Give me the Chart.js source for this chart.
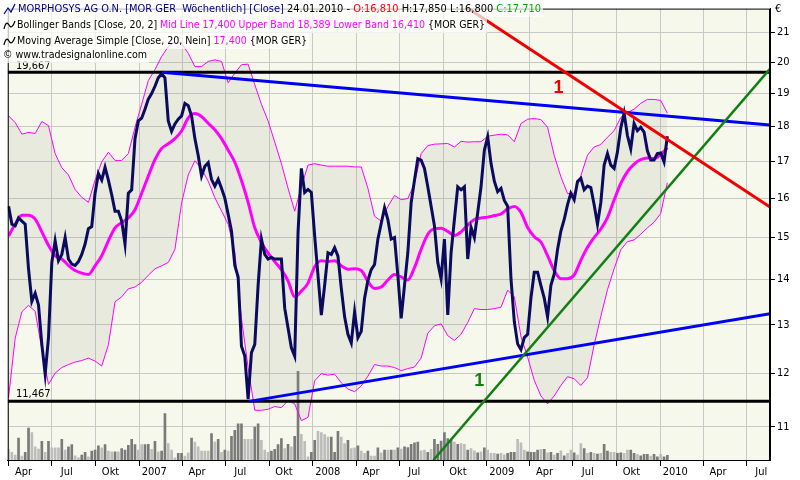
<!DOCTYPE html>
<html><head><meta charset="utf-8">
<script src="https://cdn.jsdelivr.net/npm/chart.js@4"></script>
<style>html,body{margin:0;padding:0;background:#fff}canvas{display:block}</style>
</head><body>
<canvas id="c" width="800" height="480"></canvas>
<script>
// ---- DATA (week index 0 = start of April 2006) ----
const closeWeekly = [
15.79,15.33,15.29,15.49,15.41,15.33,14.25,13.51,13.69,13.43,
12.59,11.99,12.73,14.40,14.92,14.44,14.59,15.00,14.48,14.36,
14.33,14.42,14.59,14.84,15.22,15.27,16.13,16.66,16.48,16.83,
16.48,16.09,15.66,15.66,15.41,14.84,16.13,16.22,17.64,18.16,
18.24,18.51,18.82,18.99,19.22,19.49,19.62,19.49,18.16,17.85,
18.07,18.21,18.31,18.69,18.62,18.31,17.64,17.16,16.59,16.86,
16.96,16.50,16.32,16.50,16.26,16.00,15.58,15.16,14.33,14.06,
12.55,12.35,11.51,12.42,12.59,13.87,14.96,14.59,14.48,14.52,
14.48,14.48,14.48,13.36,12.93,12.52,12.35,15.12,16.80,16.15,
16.23,16.15,15.04,14.10,13.21,13.87,14.63,14.59,14.75,14.55,
13.80,13.17,12.80,12.62,13.28,12.73,12.86,13.58,13.98,14.23,
14.35,14.96,15.35,15.75,15.45,14.96,15.00,14.10,13.14,13.87,
14.63,15.88,16.48,17.07,17.03,16.80,16.30,15.79,15.29,14.40,
14.02,14.96,13.21,14.63,15.45,16.30,16.22,16.30,14.48,15.25,
15.00,15.62,16.30,17.31,17.69,16.94,16.45,16.17,16.26,15.94,
15.79,14.02,13.07,12.60,12.48,12.73,12.80,13.58,14.17,14.17,
13.86,13.58,13.17,13.87,14.13,14.71,15.16,15.45,15.83,16.13,
15.96,16.44,16.53,16.22,16.32,16.28,15.83,15.33,15.88,16.89,
17.21,16.89,16.80,17.26,17.95,18.39,17.73,17.35,18.08,17.87,
17.97,17.83,17.29,17.03,17.03,17.21,17.23,16.98,17.71];

// indicator values read every second week
const indicatorStep = 2;
const maLine = [
15.04,15.33,15.56,15.56,15.46,15.14,14.81,14.56,14.48,14.33,
14.21,14.15,14.12,14.32,14.56,14.92,15.24,15.37,15.49,15.70,
16.13,16.59,17.04,17.36,17.49,17.64,17.86,18.25,18.38,18.29,
18.09,17.90,17.64,17.31,16.97,16.47,15.89,15.24,14.88,14.62,
14.42,14.23,13.97,13.61,13.74,13.92,14.30,14.44,14.42,14.44,
14.32,14.24,14.25,14.21,13.96,13.80,13.83,13.99,14.12,14.06,
13.99,14.28,14.71,15.08,15.22,15.23,15.15,15.05,15.14,15.31,
15.45,15.49,15.51,15.55,15.59,15.72,15.78,15.63,15.25,15.02,
14.89,14.56,14.21,14.02,14.02,14.11,14.45,14.76,15.00,15.21,
15.50,15.95,16.39,16.71,16.92,17.04,17.09,17.07,17.19,17.38];
const upperBand = [
18.31,18.11,17.77,17.82,17.79,18.14,18.02,17.21,16.82,16.62,
16.23,16.02,15.89,16.48,16.98,17.25,17.02,17.02,17.21,17.97,
18.66,19.40,19.75,20.18,20.51,20.67,20.61,20.29,19.85,19.85,
20.02,20.07,20.02,19.33,19.64,19.91,19.93,19.27,18.66,18.16,
17.54,16.93,16.26,15.66,16.30,16.89,16.93,16.89,16.86,16.86,
16.86,16.86,16.84,16.84,16.26,15.53,15.41,15.78,16.07,15.96,
15.99,16.39,17.21,17.44,17.48,17.49,17.50,17.40,17.56,17.54,
17.55,17.55,17.71,17.74,17.77,17.75,17.55,18.08,18.21,18.23,
18.20,17.97,17.16,16.57,16.12,16.13,16.60,17.17,17.40,17.47,
17.68,17.87,18.26,18.41,18.51,18.69,18.81,18.81,18.78,18.39];
const lowerBand = [
11.54,12.72,13.28,13.42,13.29,12.49,11.79,12.01,12.12,12.18,
12.23,12.26,12.31,12.25,12.15,12.58,13.50,13.61,13.79,13.83,
13.94,14.10,14.25,14.32,14.40,14.71,15.87,16.62,17.01,16.79,
16.45,16.01,15.67,15.33,14.64,13.14,12.12,11.30,11.30,11.32,
11.37,11.35,11.48,11.42,11.11,11.17,11.86,12.00,11.97,11.99,
11.82,11.70,11.65,11.76,11.95,12.18,12.15,12.15,12.12,12.06,
12.10,12.13,12.31,12.82,12.98,13.02,12.77,12.67,12.80,13.05,
13.35,13.33,13.33,13.35,13.38,13.76,13.61,12.75,12.33,11.87,
11.57,11.42,11.57,11.77,11.94,11.90,11.77,11.92,12.58,13.18,
13.77,14.25,14.70,14.90,14.94,15.08,15.24,15.38,15.60,16.41];

// weekly volume (thousand shares) and bar shade (1 = dark, 0 = light)
const volumeWeekly = [
107,77,50,223,40,77,323,277,133,110,190,77,190,123,123,123,210,100,133,157,
43,23,50,77,33,90,100,143,123,157,90,83,83,83,117,100,150,210,157,100,
157,157,160,107,190,83,90,470,167,100,23,67,67,40,73,223,183,133,90,90,
90,267,183,210,77,100,90,240,300,367,367,210,210,210,333,367,200,100,77,90,
107,157,217,117,160,133,240,900,260,190,33,77,200,290,277,257,233,233,77,290,
233,167,200,117,123,143,90,67,90,40,40,123,73,100,100,100,100,123,110,
133,127,160,173,183,93,100,77,107,210,160,193,277,217,200,183,160,167,160,100,
117,93,73,83,123,100,67,67,60,67,53,67,77,77,210,173,100,83,77,77,
100,107,107,73,77,50,67,93,43,67,100,73,50,167,117,67,77,67,60,67,
160,90,77,77,67,73,67,100,100,67,57,43,57,57,40,57,33,57,33,47];
const volumeDark = [
0,0,0,1,0,1,1,0,0,0,1,0,1,0,0,0,1,0,1,1,
0,0,1,1,0,1,1,1,0,1,0,0,1,0,1,1,1,1,1,0,
0,1,1,0,1,0,1,1,0,0,0,1,1,0,0,1,0,0,0,0,
0,1,0,1,0,1,0,1,1,1,1,0,0,0,1,1,0,0,0,1,
1,1,1,0,1,0,1,1,0,0,0,1,1,0,0,0,0,1,1,1,
0,0,1,0,0,1,0,0,1,0,0,1,0,1,0,1,0,1,0,
1,1,1,1,1,0,0,1,0,1,1,1,1,1,1,0,1,0,0,1,
0,0,1,0,1,0,0,0,1,0,0,1,1,1,0,0,0,1,1,1,
1,0,1,0,1,0,1,0,1,0,0,1,0,0,1,0,1,0,1,0,
1,1,0,0,1,1,0,0,1,1,0,1,1,1,0,1,1,0,1,1];

// horizontal levels and trend lines (week, price)
const levelHigh = 19.667, levelLow = 11.467;
const trendUpperBlue = [[46.0, 19.667], [228.85, 18.04]];
const trendLowerBlue = [[72.3, 11.467], [228.85, 13.24]];
const trendRed = [[137.7, 21.87], [228.85, 15.77]];
const trendGreen = [[127.7, 10.416], [228.85, 19.78]];
const trendMarks = [{text: '1', w: 165.3, p: 19.18, color: '#F00000'}, {text: '1', w: 141.5, p: 11.86, color: '#128012'}];

// axes
const priceTicks = [11,12,13,14,15,16,17,18,19,20,21];
const quarterStarts = [[2006,3],[2006,6],[2006,9],[2007,0],[2007,3],[2007,6],[2007,9],[2008,0],[2008,3],[2008,6],[2008,9],[2009,0],[2009,3],[2009,6],[2009,9],[2010,0],[2010,3],[2010,6]];
const quarterLabels = ['Apr','Jul','Okt','2007','Apr','Jul','Okt','2008','Apr','Jul','Okt','2009','Apr','Jul','Okt','2010','Apr','Jul'];
const xMin = -0.25, xMax = 228.85, yMin = 10.416, yMax = 21.83;

// header texts
const NAVY = '#000080', MAG = '#FF00FF';
const headerRows = [
  {x: 18, y: 9, right: 541, icon: 'zig', parts: [['MORPHOSYS AG O.N. [MOR GER  Wöchentlich] [Close]', NAVY], [' 24.01.2010 - ', '#000'], ['O:16,810', '#FF0000'], [' H:17,850 L:16,800 ', '#000'], ['C:17,710', '#00B000']]},
  {x: 17, y: 25, right: 485, icon: 'wave', parts: [['Bollinger Bands [Close, 20, 2] ', '#000'], ['Mid Line 17,400 Upper Band 18,389 Lower Band 16,410 ', MAG], ['{MOR GER}', '#000']]},
  {x: 17, y: 41, right: 307, icon: 'wave', parts: [['Moving Average Simple [Close, 20, Nein] ', '#000'], ['17,400 ', MAG], ['{MOR GER}', '#000']]},
  {x: 3, y: 55, right: 147, icon: null, parts: [['© www.tradesignalonline.com', '#000']]}
];

// ---- build ----
const quarterWeeks = quarterStarts.map(([y, m]) => (Date.UTC(y, m, 1) - Date.UTC(2006, 3, 1)) / (7 * 864e5));
const pts = (arr, step) => arr.map((v, i) => ({x: i * step, y: v}));
const seg = a => a.map(([x, y]) => ({x, y}));
const FONT = '"DejaVu Sans Condensed", "DejaVu Sans", sans-serif';

const decor = {
  id: 'decor',
  beforeDraw(chart) {
    const {ctx, chartArea: a} = chart;
    ctx.save();
    ctx.fillStyle = '#fff';
    ctx.fillRect(0, 0, chart.width, chart.height);
    ctx.fillStyle = '#F6F8EC';
    ctx.fillRect(a.left, a.top, a.right - a.left, a.bottom - a.top);
    ctx.restore();
  },
  afterDraw(chart) {
    const {ctx, chartArea: a, scales} = chart;
    const sx = scales.x, sy = scales.y;
    ctx.save();
    // frame
    ctx.strokeStyle = '#000'; ctx.lineWidth = 1;
    ctx.strokeRect(a.left + 0.5, a.top + 0.5, a.right - a.left - 1, a.bottom - a.top);
    // level labels
    ctx.font = '11px ' + FONT; ctx.fillStyle = '#000'; ctx.textBaseline = 'alphabetic'; ctx.textAlign = 'left';
    ctx.fillText('11,467', 16, sy.getPixelForValue(levelLow) - 4);
    ctx.fillText('19,667', 16, sy.getPixelForValue(levelHigh) - 3);
    // trend line marks
    ctx.font = 'bold 18px "Liberation Sans", Arial, sans-serif'; ctx.textAlign = 'center'; ctx.textBaseline = 'middle';
    for (const m of trendMarks) { ctx.fillStyle = m.color; ctx.fillText(m.text, sx.getPixelForValue(m.w), sy.getPixelForValue(m.p)); }
    // header rows
    ctx.textAlign = 'left'; ctx.textBaseline = 'middle';
    ctx.font = '11px ' + FONT;
    for (const r of headerRows) {
      const tw = r.parts.reduce((s, p) => s + ctx.measureText(p[0]).width, 0);
      const k = Math.max(0.85, Math.min(1.2, (r.right - r.x) / tw));
      ctx.fillStyle = 'rgba(255,255,255,0.72)';
      ctx.fillRect(2, r.y - 8, r.right - 2 + 2, 16);
      if (r.icon === 'zig') {
        ctx.strokeStyle = NAVY; ctx.lineWidth = 1.2; ctx.beginPath();
        ctx.moveTo(4, r.y + 5); ctx.lineTo(8, r.y - 1); ctx.lineTo(11, r.y + 3); ctx.lineTo(15, r.y - 5); ctx.stroke();
      } else if (r.icon === 'wave') {
        ctx.strokeStyle = '#000'; ctx.lineWidth = 1.2; ctx.beginPath();
        ctx.moveTo(4, r.y + 4); ctx.quadraticCurveTo(6, r.y - 5, 9, r.y); ctx.quadraticCurveTo(12, r.y + 5, 15, r.y - 4); ctx.stroke();
      }
      ctx.save();
      ctx.translate(r.x, r.y + 0.5);
      ctx.scale(k, 1);
      let cx = 0;
      for (const [t, c] of r.parts) { ctx.fillStyle = c; ctx.fillText(t, cx, 0); cx += ctx.measureText(t).width; }
      ctx.restore();
    }
    // currency sign
    ctx.fillStyle = '#000'; ctx.font = '11px ' + FONT; ctx.textAlign = 'left';
    ctx.fillText('€', 775, 9);
    ctx.restore();
  }
};

const trendDs = (data, color, width, order) => ({type: 'line', data: seg(data), borderColor: color, borderWidth: width, pointRadius: 0, order, fill: false});

new Chart(document.getElementById('c'), {
  type: 'line',
  data: {
    datasets: [
      {label: 'Upper Band', data: pts(upperBand, indicatorStep), borderColor: MAG, borderWidth: 1, pointRadius: 0,
       fill: {target: '+1'}, backgroundColor: 'rgba(150,155,140,0.15)', order: 20},
      {label: 'Lower Band', data: pts(lowerBand, indicatorStep), borderColor: MAG, borderWidth: 1, pointRadius: 0, fill: false, order: 19},
      {type: 'bar', label: 'Volume', data: pts(volumeWeekly, 1), yAxisID: 'yv', barThickness: 2,
       backgroundColor: volumeDark.map(d => d ? '#7A7A7A' : '#BDBDBD'), borderWidth: 0, order: 21},
      {label: 'Mid Line', data: pts(maLine, indicatorStep), borderColor: MAG, borderWidth: 3, pointRadius: 0, fill: false, cubicInterpolationMode: 'monotone', order: 8},
      {label: 'Close', data: pts(closeWeekly, 1), borderColor: '#0A0A5E', borderWidth: 3, pointRadius: 0, fill: false, order: 6},
      trendDs([[xMin, levelHigh], [xMax, levelHigh]], '#000', 3, 4),
      trendDs([[xMin, levelLow], [xMax, levelLow]], '#000', 3, 4),
      trendDs(trendUpperBlue, '#0000F0', 3, 3),
      trendDs(trendLowerBlue, '#0000F0', 3, 3),
      trendDs(trendRed, '#F00000', 3, 2),
      trendDs(trendGreen, '#108010', 2.5, 2)
    ]
  },
  options: {
    responsive: false, animation: false, devicePixelRatio: 1,
    layout: {padding: {left: 2, top: 2, right: 0, bottom: 0}},
    plugins: {legend: {display: false}, tooltip: {enabled: false}},
    scales: {
      x: {type: 'linear', min: xMin, max: xMax, offset: false,
          afterBuildTicks: s => { s.ticks = quarterWeeks.map(v => ({value: v})); },
          afterFit: s => { s.height = 20; },
          grid: {color: '#C8C8C8', tickColor: '#000', tickLength: 6, offset: false},
          border: {display: true, color: '#000'},
          ticks: {autoSkip: false, maxRotation: 0, minRotation: 0, labelOffset: 15, padding: 0, color: '#000',
                  font: {family: FONT, size: 11}, callback: (v, i) => quarterLabels[i]}},
      y: {type: 'logarithmic', position: 'right', min: yMin, max: yMax,
          afterBuildTicks: s => { s.ticks = priceTicks.map(v => ({value: v})); },
          afterFit: s => { s.width = 30; },
          grid: {color: '#C8C8C8', tickColor: '#000', tickLength: 5},
          border: {display: true, color: '#000'},
          ticks: {autoSkip: false, padding: 2, color: '#000', font: {family: FONT, size: 11}, callback: v => String(v)}},
      yv: {type: 'linear', display: false, min: 0, max: 4580}
    }
  },
  plugins: [decor]
});
</script>
</body></html>
